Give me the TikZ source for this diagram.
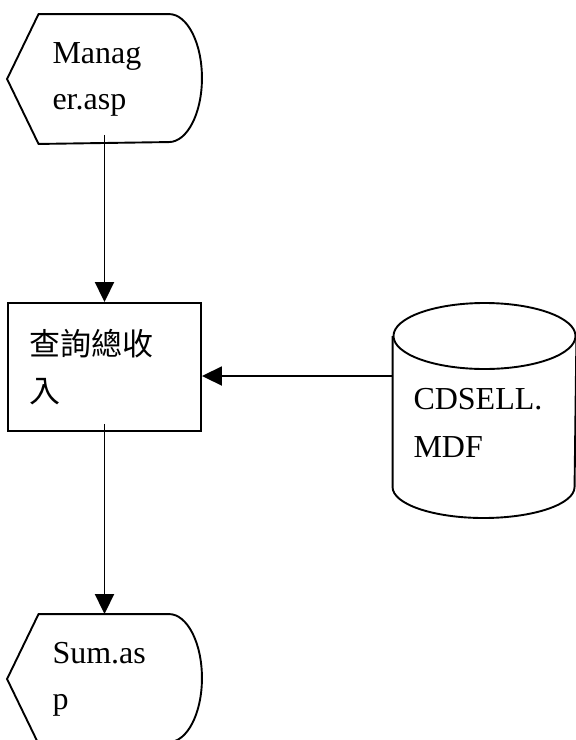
\documentclass[tikz,border=0pt]{standalone}
\usepackage{fontspec}
\setmainfont{Liberation Serif}
\newfontfamily\cjk{Noto Sans CJK TC}
\usetikzlibrary{arrows.meta}

\begin{document}
\begin{tikzpicture}[x=1pt, y=-1pt, line width=1.9pt]
        \tikzstyle{page} = [minimum width=193pt, minimum height=128pt, inner xsep=0pt, text width=104pt, align=left, font=\fontsize{32}{46}\selectfont]
        \tikzstyle{proc} = [draw, minimum width=193pt, minimum height=128pt, inner xsep=0pt, text width=150pt, align=left, font=\cjk\fontsize{31}{47}\selectfont]
        \tikzstyle{store} = [minimum width=182pt, minimum height=151pt, inner xsep=0pt, text width=142pt, align=left, font=\fontsize{32}{48}\selectfont]
        \tikzstyle{flow} = [-{Triangle[length=20pt, width=19pt]}]
        \useasboundingbox (0,0) rectangle (576,740);
        \node[page] (mgr) at (104.5,79) {Manag\\er.asp};
        \node[proc] (calc) at (104.5,367) {查詢總收\\入};
        \node[store] (db) at (484.5,423) {CDSELL.\\MDF};
        \node[page] (sum) at (104.5,679) {Sum.as\\p};
        % display outlines
        \draw (mgr.west) -- ([xshift=31.5pt]mgr.north west) -- ([xshift=-33pt]mgr.north east)
            arc[start angle=90, end angle=-90, x radius=33pt, y radius=64pt] -- ([xshift=31.5pt]mgr.south west) -- cycle;
        \draw (sum.west) -- ([xshift=31.5pt]sum.north west) -- ([xshift=-33pt]sum.north east)
            arc[start angle=90, end angle=-90, x radius=33pt, y radius=64pt] -- ([xshift=31.5pt]sum.south west) -- cycle;
        % database cylinder
        \draw (db.west |- 0,336) -- (db.west |- 0,487)
            arc[start angle=180, end angle=360, x radius=91pt, y radius=31pt] -- (db.east |- 0,336);
        \draw (484.5,336) ellipse [x radius=91pt, y radius=33pt];
        \draw[flow] ([yshift=9pt]mgr.south) -- (calc.north);
        \draw[flow] ([yshift=-9pt]calc.east -| db.west) -- ([yshift=-9pt]calc.east);
        \draw[flow] ([yshift=8pt]calc.south) -- (sum.north);
\end{tikzpicture}
\end{document}
